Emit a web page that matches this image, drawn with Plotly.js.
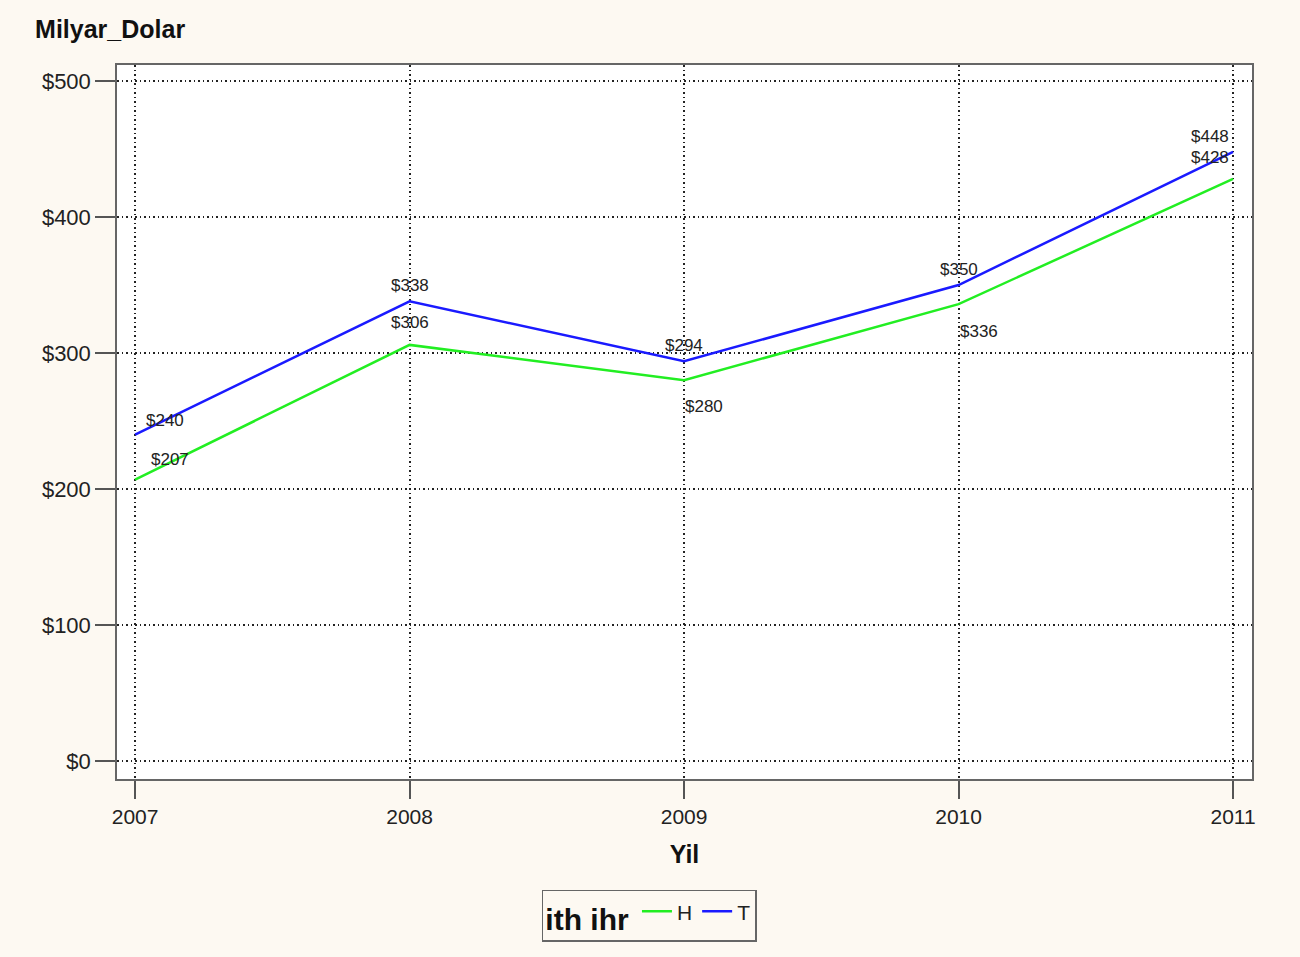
<!DOCTYPE html>
<html>
<head>
<meta charset="utf-8">
<script src="https://cdn.plot.ly/plotly-3.0.1.min.js"></script>
<style>html,body{margin:0;padding:0;background:#fdf9f2;}</style>
</head>
<body>
<div id="chart" style="width:1300px;height:957px;"></div>
<script>
const years = [2007, 2008, 2009, 2010, 2011];
const seriesH = [207, 306, 280, 336, 428];
const seriesT = [240, 338, 294, 350, 448];
const seriesNames = ['H', 'T'];
const tickVals = [0, 100, 200, 300, 400, 500];
const tickText = ['$0', '$100', '$200', '$300', '$400', '$500'];

// label offsets (pixels) for each data label
const offH = [[35, 20], [0, 22], [20, -26], [20, -27], [-23, 21]];
const offT = [[30, 14], [0, 16], [0, 16], [0, 16], [-23, 15]];

const colors = {H: '#22ee22', T: '#1a1aff'};

const traces = [
  {x: years, y: seriesH, name: seriesNames[0], mode: 'lines', line: {color: colors.H, width: 2.5}},
  {x: years, y: seriesT, name: seriesNames[1], mode: 'lines', line: {color: colors.T, width: 2.5}}
];

const annotations = [];
function addLabels(vals, offs) {
  vals.forEach((v, i) => {
    annotations.push({x: years[i], y: v, xref: 'x', yref: 'y', text: '$' + v, showarrow: false,
      xshift: offs[i][0], yshift: offs[i][1], font: {family: 'Liberation Sans, Arial', size: 17, color: '#222'}});
  });
}
addLabels(seriesH, offH);
addLabels(seriesT, offT);

const layout = {
  width: 1300, height: 957,
  paper_bgcolor: '#fdf9f2',
  plot_bgcolor: '#ffffff',
  margin: {l: 117, r: 48, t: 65, b: 178},
  font: {family: 'Liberation Sans, Arial', size: 22, color: '#222'},
  title: {text: '<b>Milyar_Dolar</b>', x: 0.027, xanchor: 'left', y: 0.969, yanchor: 'middle', font: {size: 25, color: '#111'}},
  xaxis: {
    range: [2006.934, 2011.069], tickvals: years, ticktext: years.map(String),
    showgrid: true, gridcolor: '#222', griddash: '1.5px,3px', gridwidth: 1.5,
    ticks: 'outside', ticklen: 18, tickcolor: '#555', tickwidth: 1.5,
    showline: true, linecolor: '#666', linewidth: 1.5, mirror: true, zeroline: false,
    tickfont: {size: 21},
    title: {text: '<b>Yil</b>', font: {size: 25, color: '#111'}, standoff: 19}
  },
  yaxis: {
    range: [-13.2, 511.8], tickvals: tickVals, ticktext: tickText,
    showgrid: true, gridcolor: '#222', griddash: '1.5px,3px', gridwidth: 1.5,
    ticks: 'outside', ticklen: 20, tickcolor: '#555', tickwidth: 1.5,
    showline: true, linecolor: '#666', linewidth: 1.5, mirror: true, zeroline: false,
    tickfont: {size: 22}
  },
  showlegend: true,
  legend: {
    orientation: 'h', x: 0.469, xanchor: 'center', y: -0.155, yanchor: 'top',
    bgcolor: 'rgba(0,0,0,0)', bordercolor: '#666', borderwidth: 1.5,
    title: {text: '<b>ith ihr</b>', font: {size: 30, color: '#111'}, side: 'left'},
    font: {size: 21, color: '#222'}, itemwidth: 30, tracegroupgap: 0
  },
  annotations: annotations
};

Plotly.newPlot('chart', traces, layout, {displayModeBar: false});
</script>
</body>
</html>
